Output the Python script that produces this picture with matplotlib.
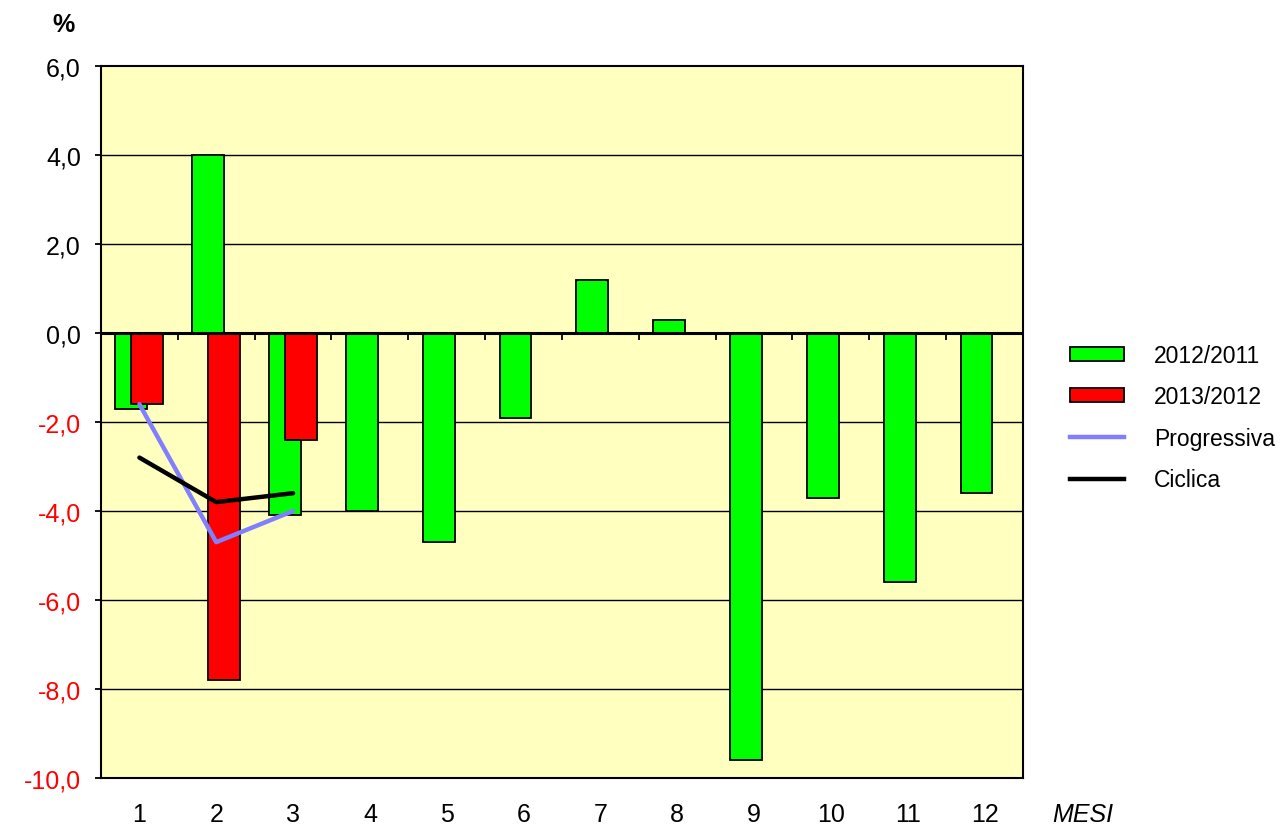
import matplotlib.pyplot as plt
import numpy as np
from matplotlib.patches import Patch
from matplotlib.lines import Line2D

plt.rcParams['font.family'] = ['Liberation Sans', 'DejaVu Sans']

# dati mensili (variazioni %)
mesi = ['1', '2', '3', '4', '5', '6', '7', '8', '9', '10', '11', '12']
var_2012_2011 = [-1.7, 4.0, -4.1, -4.0, -4.7, -1.9, 1.2, 0.3, -9.6, -3.7, -5.6, -3.6]
var_2013_2012 = [-1.6, -7.8, -2.4]
progressiva = [-1.6, -4.7, -4.0]
ciclica = [-2.8, -3.8, -3.6]
yticks = [-10, -8, -6, -4, -2, 0, 2, 4, 6]

fig = plt.figure(figsize=(12.88, 8.29), dpi=100)
ax = fig.add_axes([0.0784, 0.0603, 0.7158, 0.8589])
ax.set_facecolor('#FFFFC0')

x = np.arange(1, len(mesi) + 1)
w = 0.415
off = 0.104

ax.bar(x - off, var_2012_2011, width=w, color='#00FF00', edgecolor='black',
       linewidth=1.3, zorder=3, label='2012/2011')
x2 = x[:len(var_2013_2012)]
ax.bar(x2 + off, var_2013_2012, width=w, color='#FF0000', edgecolor='black',
       linewidth=1.3, zorder=4, label='2013/2012')
ax.plot(x2, progressiva, color='#8080FF', lw=3.2, zorder=5, solid_capstyle='round')
ax.plot(x2, ciclica, color='black', lw=3.2, zorder=6, solid_capstyle='round')

ax.set_xlim(0.5, 12.5)
ax.set_ylim(-10, 6)
ax.set_yticks(yticks)
ax.set_yticklabels([('%.1f' % v).replace('.', ',') for v in yticks], fontsize=18)
for lab, v in zip(ax.get_yticklabels(), yticks):
    lab.set_color('red' if v < 0 else 'black')
ax.tick_params(axis='y', length=4.5, width=1.3, direction='out', pad=10)

ax.set_xticks(x)
ax.set_xticklabels(mesi, fontsize=18)
ax.tick_params(axis='x', length=0, pad=17)

for v in yticks[1:-1]:
    if v != 0:
        ax.axhline(v, color='black', lw=1.0, zorder=1)
ax.axhline(0, color='black', lw=2.2, zorder=7)
ax.vlines(x[:-1] + 0.5, -0.16, 0, color='black', lw=1.3, zorder=7)

for s in ax.spines.values():
    s.set_linewidth(1.5)

fig.text(0.049, 0.97, '%', fontsize=18, fontweight='bold', ha='center', va='center')
fig.text(0.841, 0.017, 'MESI', fontsize=18, fontstyle='italic', ha='center', va='center')

handles = [
    Patch(facecolor='#00FF00', edgecolor='black', linewidth=1.3),
    Patch(facecolor='#FF0000', edgecolor='black', linewidth=1.3),
    Line2D([], [], color='#8080FF', lw=3.2),
    Line2D([], [], color='black', lw=3.2),
]
fig.legend(handles, ['2012/2011', '2013/2012', 'Progressiva', 'Ciclica'],
           loc='center left', bbox_to_anchor=(0.815, 0.495), frameon=False,
           fontsize=16.5, handlelength=2.35, handleheight=0.55, labelspacing=0.8,
           handletextpad=1.3)

fig.savefig('out.png', dpi=100)
